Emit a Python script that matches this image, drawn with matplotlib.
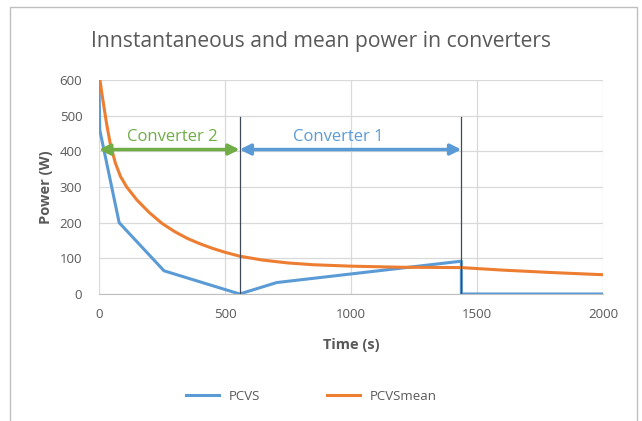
import matplotlib.pyplot as plt
from matplotlib.patches import Rectangle

# series
t_pcvs = [0, 3, 80, 258, 558, 705, 1438, 1438, 2000]
p_pcvs = [600, 460, 200, 65, 0, 32, 92, 0, 0]

t_mean = [0, 5, 10, 18, 30, 45, 65, 85, 110, 150, 200, 250, 300, 350, 400, 450, 500, 558,
          650, 750, 850, 1000, 1200, 1438, 1600, 1800, 2000]
p_mean = [620, 594, 569, 532, 478, 420, 367, 330, 300, 264, 228, 198, 175, 156, 141, 128, 117, 106,
          95, 87, 82, 78, 75, 74, 67, 60, 54]

t_switch = [558, 1438]
switch_top = 497
arrow_y = 405

blue = '#5B9BD5'
orange = '#ED7D31'
green = '#70AD47'
grey = '#595959'

plt.rcParams['font.family'] = ['Open Sans', 'DejaVu Sans']

fig = plt.figure(figsize=(6.42, 4.21), dpi=100)
ax = fig.add_axes([0.1542, 0.3017, 0.785, 0.5083])

# outer chart frame
fig.patches.append(Rectangle((10/642, -0.05), 627/642, 1 - 7/421 + 0.05, transform=fig.transFigure,
                             fill=False, edgecolor='#BFBFBF', linewidth=1))

ax.plot(t_pcvs, p_pcvs, color=blue, lw=2.2, label='PCVS', zorder=3)
ax.plot(t_mean, p_mean, color=orange, lw=2.2, label='PCVSmean', zorder=3)

for ts in t_switch:
    ax.plot([ts, ts], [0, switch_top], color='#404A5A', lw=0.9, zorder=4)

ax.annotate('', xy=(0, arrow_y), xytext=(t_switch[0], arrow_y),
            arrowprops=dict(arrowstyle='<|-|>', color=green, lw=2.5, mutation_scale=16, shrinkA=0, shrinkB=0))
ax.annotate('', xy=(t_switch[0], arrow_y), xytext=(t_switch[1], arrow_y),
            arrowprops=dict(arrowstyle='<|-|>', color=blue, lw=2.5, mutation_scale=16, shrinkA=0, shrinkB=0))
ax.text(290, 440, 'Converter 2', color=green, fontsize=12, ha='center', va='center')
ax.text(950, 440, 'Converter 1', color=blue, fontsize=12, ha='center', va='center')

ax.set_xlim(0, 2000)
ax.set_ylim(0, 600)
ax.set_xticks([0, 500, 1000, 1500, 2000])
ax.set_yticks(range(0, 601, 100))
ax.grid(True, color='#D9D9D9', lw=0.9)
ax.set_axisbelow(True)
for s in ['top', 'right', 'left']:
    ax.spines[s].set_visible(False)
ax.spines['bottom'].set_color('#BFBFBF')
ax.tick_params(length=0, labelsize=9.5, colors=grey)
ax.tick_params(axis='x', pad=10)
ax.tick_params(axis='y', pad=12)

ax.set_xlabel('Time (s)', fontsize=10.5, color=grey, fontweight='bold', labelpad=12)
ax.set_ylabel('Power (W)', fontsize=10.5, color=grey, fontweight='bold', labelpad=5)
fig.text(0.5, 1 - 42/421, 'Innstantaneous and mean power in converters', fontsize=15.2,
         color=grey, ha='center', va='center')

fig.legend(loc='center', bbox_to_anchor=(0.485, 1 - 396/421), ncol=2, frameon=False,
           fontsize=9.5, labelcolor=grey, columnspacing=5, handlelength=2.5)

plt.savefig('out.png', dpi=100)
